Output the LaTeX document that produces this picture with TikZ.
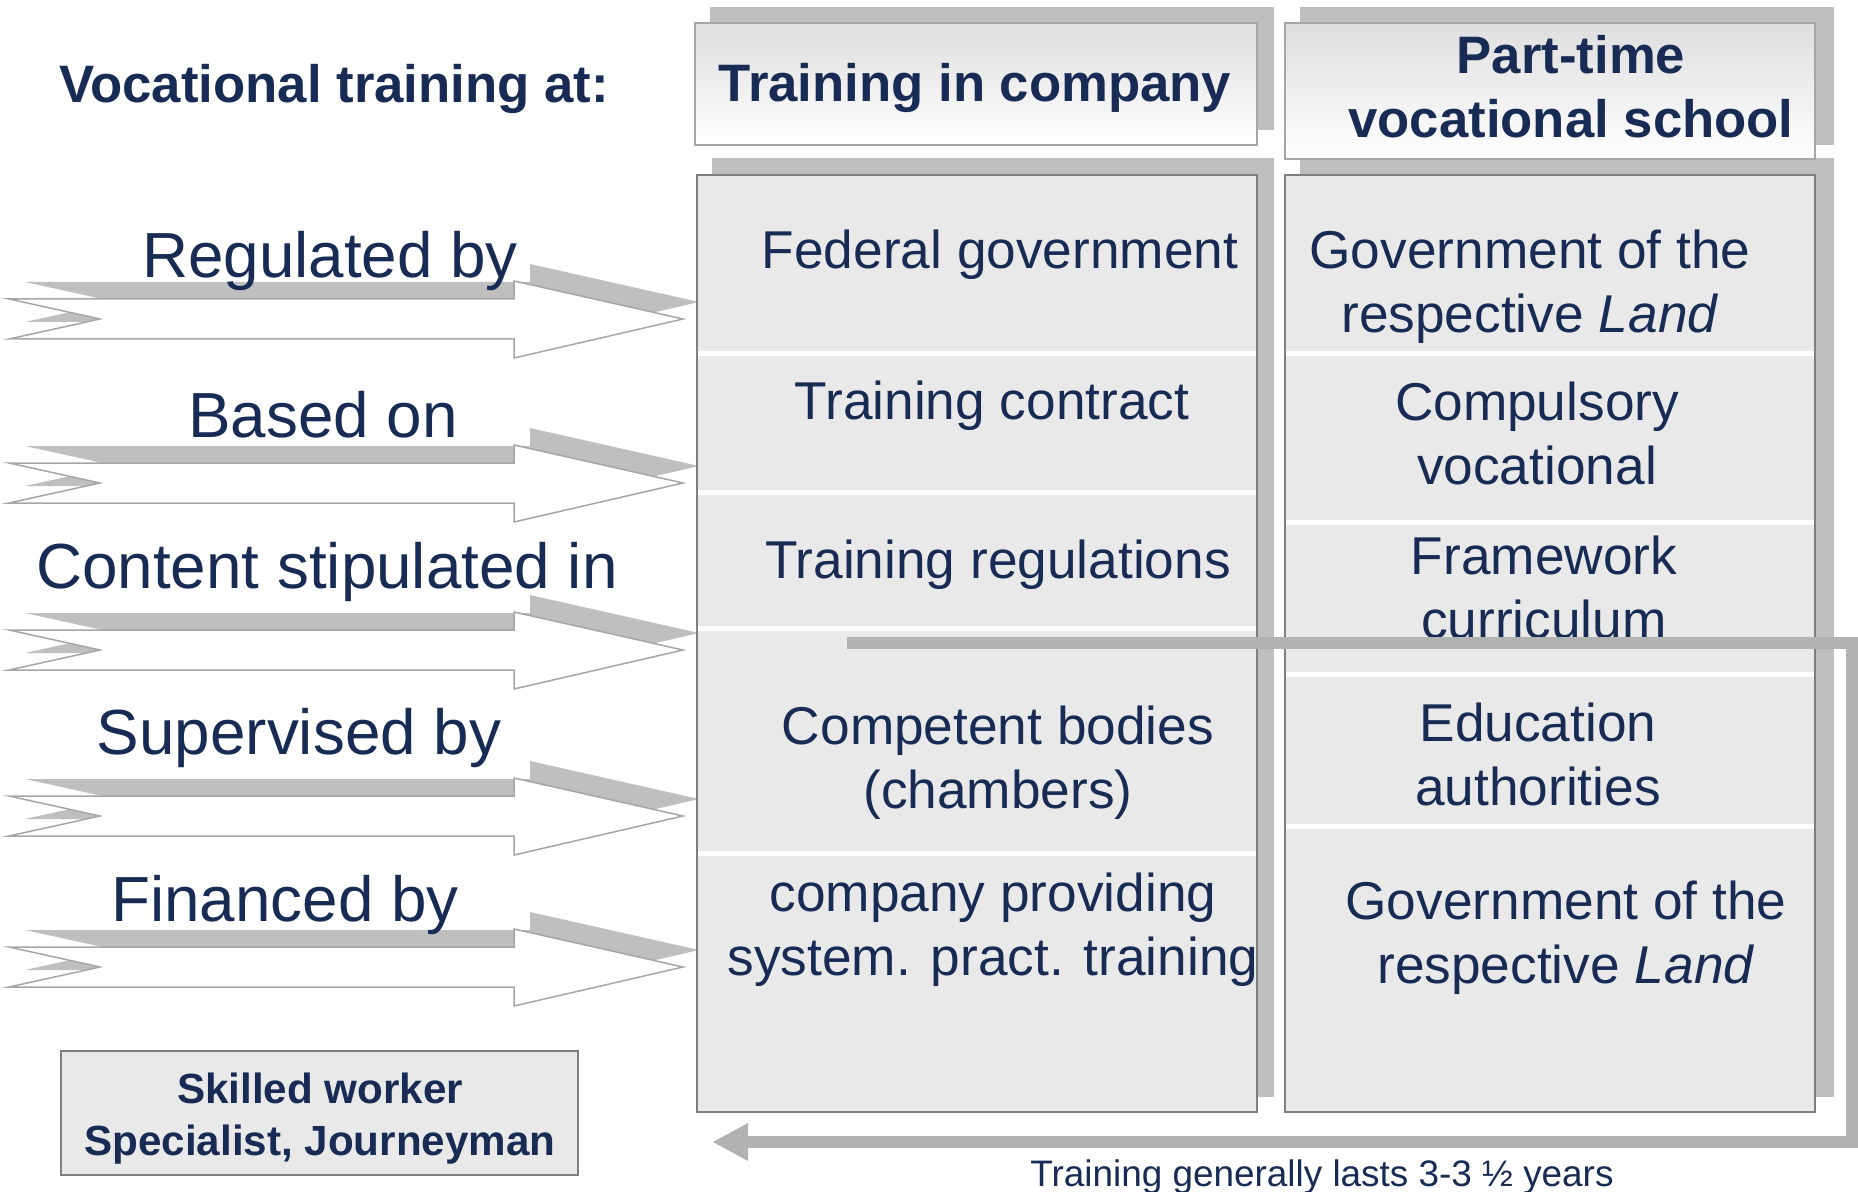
\documentclass[tikz,border=0pt]{standalone}
\usepackage{fontspec}
\setmainfont{Liberation Sans}
\usepackage{tikz}
\usetikzlibrary{arrows.meta, positioning}

\definecolor{navy}{RGB}{23,43,84}
\definecolor{shadowgray}{HTML}{BFBFBF}
\definecolor{cellgray}{HTML}{E9E9E9}
\definecolor{bordergray}{HTML}{7F7F7F}
\definecolor{flowgray}{HTML}{B2B2B2}
\definecolor{arrowgray}{HTML}{A6A6A6}

\tikzset{
    shadowbox/.style={fill=shadowgray},
    colbox/.style={fill=cellgray, draw=bordergray, line width=0.03cm},
    headbox/.style={top color=cellgray!90!gray, bottom color=white, draw=arrowgray, line width=0.03cm},
    divider/.style={draw=white, line width=0.1cm},
    blockarrow/.style={fill=white, draw=arrowgray, line width=0.03cm},
    rowlabel/.style={font=\fontsize{36.3}{43.6}\selectfont},
    cell/.style={align=center, font=\fontsize{30.3}{36.4}\selectfont},
    head/.style={align=center, font=\bfseries\fontsize{30}{36.4}\selectfont},
    resulttext/.style={align=center, font=\bfseries\fontsize{24}{29.6}\selectfont},
    flow/.style={draw=flowgray, line width=0.24cm, -{Triangle[length=0.72cm, width=0.7cm]}},
}

\begin{document}
\begin{tikzpicture}[x=0.02cm, y=-0.02cm, every node/.style={text=navy}]
    \useasboundingbox (0,0) rectangle (1858,1192);

    % shadows
    \fill[shadowbox] (710,7) rectangle (1274,130);
    \fill[shadowbox] (1300,7) rectangle (1834,145);
    \fill[shadowbox] (712,158) rectangle (1274,1097);
    \fill[shadowbox] (1300,158) rectangle (1834,1097);

    % header boxes
    \shade[headbox] (695,23) rectangle (1257,145);
    \shade[headbox] (1285,23) rectangle (1815,159);

    % block arrows
    \foreach \y in {319,483,650,816,967} {
        \fill[shadowbox, shift={(16,-17)}]
            (9,\y-20) -- (514,\y-20) -- (514,\y-38) -- (683,\y) -- (514,\y+39)
            -- (514,\y+20) -- (9,\y+20) -- (100,\y) -- cycle;
        \filldraw[blockarrow]
            (9,\y-20) -- (514,\y-20) -- (514,\y-38) -- (683,\y) -- (514,\y+39)
            -- (514,\y+20) -- (9,\y+20) -- (100,\y) -- cycle;
    }

    % columns
    \filldraw[colbox] (697,175) rectangle (1257,1112);
    \filldraw[colbox] (1285,175) rectangle (1815,1112);
    \foreach \y in {354,492,628,853}
        \draw[divider] (698,\y) -- (1256,\y);
    \foreach \y in {354,522,674,826}
        \draw[divider] (1286,\y) -- (1814,\y);

    % result box
    \filldraw[colbox] (61,1051) rectangle (578,1175);

    % Nodes
    \node (title) at (334, 90)[head] {Vocational training at:\strut};
    \node (headcompany) at (975, 89)[head] {Training in company\strut};
    \node (headschool) at (1571, 93)[head] {Part-time\strut\\vocational school\strut};

    \node (regulated) at (330, 262)[rowlabel] {Regulated by\strut};
    \node (basedon) at (323, 422)[rowlabel] {Based on\strut};
    \node (content) at (327, 573)[rowlabel] {Content stipulated in\strut};
    \node (supervised) at (299, 739)[rowlabel] {Supervised by\strut};
    \node (financed) at (285, 906)[rowlabel] {Financed by\strut};

    \node (fedgov) at (1000, 256)[cell] {Federal government\strut};
    \node (contract) at (992, 407)[cell] {Training contract\strut};
    \node (regs) at (998, 566)[cell] {Training regulations\strut};
    \node (bodies) at (998, 764)[cell] {Competent bodies\strut\\(chambers)\strut};
    \node (company) at (993, 931)[cell] {company providing\strut\\system. pract. training\strut};

    \node (landgov) at (1530, 288)[cell] {Government of the\strut\\respective \textit{Land}\strut};
    \node (compulsory) at (1537, 440)[cell] {Compulsory\strut\\vocational\strut};
    \node (framework) at (1544, 594)[cell] {Framework\strut\\curriculum\strut};
    \node (education) at (1538, 761)[cell] {Education\strut\\authorities\strut};
    \node (landfin) at (1566, 939)[cell] {Government of the\strut\\respective \textit{Land}\strut};

    \node (result) at (320, 1119)[resulttext] {Skilled worker\strut\\Specialist, Journeyman\strut};

    % duration line
    \coordinate (flowstart) at (847, 643);
    \coordinate (flowcorner) at (1852, 643);
    \coordinate (flowend) at (712, 1142);
    \draw[flow] (flowstart) -- (flowcorner) |- (flowend);
    \node (duration) at (1322, 1178)[font=\fontsize{21}{25}\selectfont] {Training generally lasts 3-3 ½ years\strut};

\end{tikzpicture}
\end{document}
